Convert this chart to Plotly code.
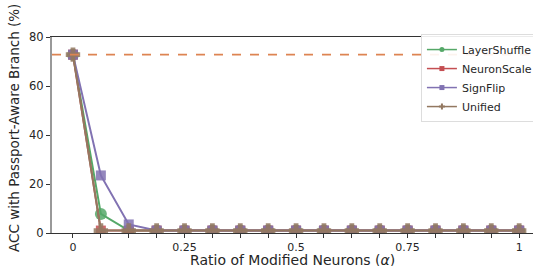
import plotly.graph_objects as go

ratios = [i / 16 for i in range(17)]
layer_shuffle = [72.8, 7.8] + [1.0] * 15
neuron_scale = [72.8, 1.0] + [1.0] * 15
sign_flip = [72.8, 23.5, 3.5] + [1.0] * 14
unified = [72.8, 1.0] + [1.0] * 15
baseline = 72.8

x_tickvals = ratios
x_ticktext = ["0", "", "", "", "0.25", "", "", "", "0.5", "", "", "", "0.75", "", "", "", "1"]
y_tickvals = [0, 20, 40, 60, 80]
x_title = "Ratio of Modified Neurons (<i>α</i>)"
y_title = "ACC with Passport-Aware Branch (%)"

series = [
    ("LayerShuffle", layer_shuffle, "#55a868", "circle", 12),
    ("NeuronScale", neuron_scale, "#c44e52", "square", 10),
    ("SignFlip", sign_flip, "#8172b2", "square", 10),
    ("Unified", unified, "#937860", "cross", 12),
]

fig = go.Figure()
for name, vals, color, sym, sz in series:
    fig.add_trace(go.Scatter(
        x=ratios, y=vals, name=name, mode="lines+markers", showlegend=False,
        line=dict(color=color, width=2),
        marker=dict(symbol=sym, size=sz, color=color, opacity=0.85,
                    line=dict(width=0)),
    ))
# legend entries with small markers
for name, vals, color, sym, sz in series:
    fig.add_trace(go.Scatter(
        x=[None], y=[None], name=name, mode="lines+markers", showlegend=True,
        line=dict(color=color, width=1.5),
        marker=dict(symbol=sym, size=5, color=color),
    ))

fig.add_hline(y=baseline, line=dict(color="#dd8452", width=1.6, dash="dash"))

fig.add_annotation(text=x_title, xref="paper", yref="paper", x=0.5, y=0,
                   xanchor="center", yanchor="middle", yshift=-26.5, showarrow=False,
                   font=dict(size=14))
fig.add_annotation(text=y_title, xref="paper", yref="paper", x=0, y=0.536,
                   xanchor="center", yanchor="middle", xshift=-38, textangle=-90,
                   showarrow=False, font=dict(size=13.5))

font_family = "DejaVu Sans"
fig.update_layout(
    width=533, height=266,
    margin=dict(l=52, r=0, t=37, b=33, autoexpand=False),
    plot_bgcolor="white", paper_bgcolor="white",
    font=dict(family=font_family, size=11.5, color="#262626"),
    showlegend=True,
    legend=dict(x=0.767, y=1.015, xanchor="left", yanchor="top",
                bgcolor="rgba(255,255,255,0.9)", bordercolor="#dddddd", borderwidth=1,
                font=dict(size=11), itemwidth=30, tracegroupgap=0),
    xaxis=dict(
        range=[-0.047, 1.031], tickvals=x_tickvals, ticktext=x_ticktext,
        ticks="outside", ticklen=4, tickcolor="#333", tickwidth=1,
        tickfont=dict(size=11),
        showline=True, linecolor="#333", linewidth=1.2, mirror=True,
        showgrid=False, zeroline=False, automargin=False,
    ),
    yaxis=dict(
        range=[0, 80], tickvals=y_tickvals,
        ticks="outside", ticklen=4, tickcolor="#333", tickwidth=1,
        showline=True, linecolor="#999", linewidth=2,
        showgrid=False, zeroline=False, automargin=False,
    ),
)

fig.write_html("out.html", config={"displayModeBar": False},
               post_script="document.body.style.margin='0';document.body.style.overflow='hidden';")
